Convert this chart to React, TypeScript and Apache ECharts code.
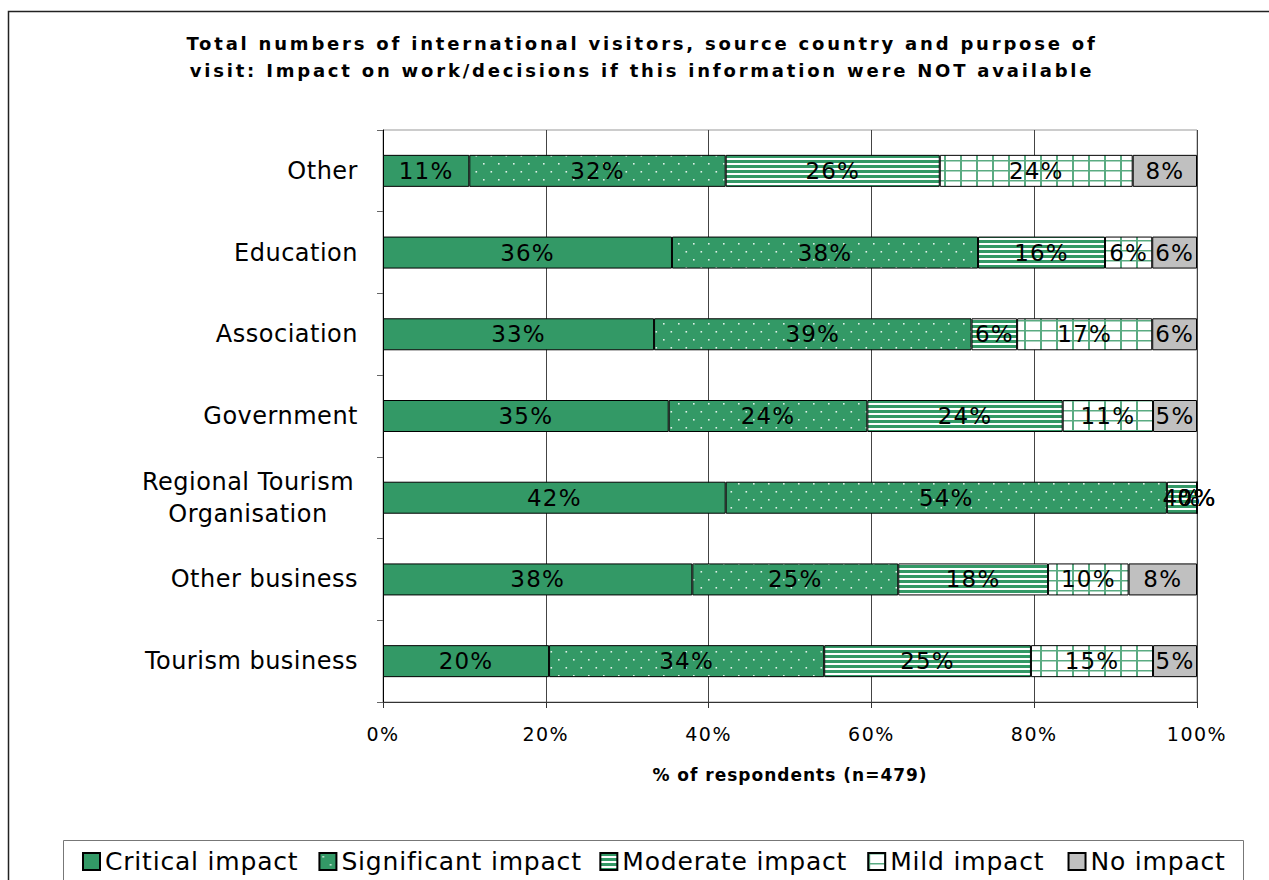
import React, { useEffect, useRef } from 'react';
import * as echarts from 'echarts';

const categories = [
  'Other',
  'Education',
  'Association',
  'Government',
  'Regional Tourism\nOrganisation',
  'Other business',
  'Tourism business',
];
const seriesNames = ['Critical impact', 'Significant impact', 'Moderate impact', 'Mild impact', 'No impact'];
const critical = [10.6, 35.5, 33.3, 35.1, 42.1, 38.0, 20.4];
const significant = [31.5, 37.6, 39.0, 24.4, 54.2, 25.3, 33.8];
const moderate = [26.3, 15.6, 5.6, 24.0, 3.7, 18.4, 25.4];
const mild = [23.7, 5.8, 16.6, 11.1, 0, 9.9, 15.0];
const noImpact = [7.9, 5.5, 5.5, 5.4, 0, 8.4, 5.4];
const xMin = 0;
const xMax = 100;
const xStep = 20;
const titleText =
  'Total numbers of international visitors, source country and purpose of\nvisit: Impact on work/decisions if this information were NOT available';
const axisNameText = '% of respondents (n=479)';

const GREEN = '#339966';
const FONT = 'DejaVu Sans';

function makePattern(kind: string) {
  const c = document.createElement('canvas');
  let w = 16;
  let h = 8;
  if (kind === 'dots') { w = 15; h = 16; }
  if (kind === 'hstripes') { w = 8; h = 5; }
  if (kind === 'grid') { w = 16; h = 10; }
  c.width = w;
  c.height = h;
  const ctx = c.getContext('2d') as CanvasRenderingContext2D;
  if (kind === 'dots') {
    ctx.fillStyle = GREEN;
    ctx.fillRect(0, 0, w, h);
    ctx.fillStyle = 'rgba(255,255,255,0.85)';
    ctx.fillRect(3, 3, 1.6, 1.6);
    ctx.fillRect(10.5, 11, 1.6, 1.6);
  } else if (kind === 'hstripes') {
    ctx.fillStyle = '#ffffff';
    ctx.fillRect(0, 0, w, h);
    ctx.fillStyle = GREEN;
    ctx.fillRect(0, 0, w, 3);
  } else {
    ctx.fillStyle = '#ffffff';
    ctx.fillRect(0, 0, w, h);
    ctx.fillStyle = '#5aab82';
    ctx.fillRect(0, 0, 2, h);
    ctx.fillRect(0, 0, w, 1.5);
  }
  return { image: c.toDataURL(), repeat: 'repeat', imageWidth: w, imageHeight: h };
}

export default function App() {
  const ref = useRef<HTMLDivElement>(null);

  useEffect(() => {
    if (!ref.current) return;
    const chart = echarts.init(ref.current, undefined, { renderer: 'svg' });
    const fills: any[] = [GREEN, makePattern('dots'), makePattern('hstripes'), makePattern('grid'), '#C0C0C0'];
    const values = [critical, significant, moderate, mild, noImpact];

    const series = seriesNames.map((name, i) => ({
      name,
      type: 'bar',
      stack: 'total',
      barWidth: 32,
      data: values[i],
      itemStyle: { color: fills[i], borderColor: '#000', borderWidth: 1 },
      label: {
        show: true,
        position: 'inside',
        color: '#000',
        fontFamily: FONT,
        fontSize: 23,
        textBorderWidth: 0,
        formatter: (p: any) => Math.round(p.value) + '%',
      },
      emphasis: { disabled: true },
    }));

    const yData = categories.map((c, i) =>
      i === 4 ? { value: c, textStyle: { align: 'center', padding: [0, 220, 0, 0] } } : c
    );

    chart.setOption({
      animation: false,
      backgroundColor: '#ffffff',
      title: {
        text: titleText,
        left: 642,
        top: 30,
        padding: 0,
        textAlign: 'center',
        textStyle: { fontFamily: FONT, fontWeight: 'bold', fontSize: 18, color: '#000', lineHeight: 27 },
      },
      legend: {
        data: seriesNames,
        left: 77,
        top: 844,
        itemGap: 32,
        itemWidth: 17,
        itemHeight: 17,
        icon: 'rect',
        textStyle: { fontFamily: FONT, fontSize: 25, color: '#000' },
        selectedMode: false,
      },
      grid: {
        left: 383,
        right: 72,
        top: 130,
        bottom: 178,
        show: true,
        borderColor: '#999',
        borderWidth: 1,
        backgroundColor: 'transparent',
      },
      xAxis: {
        type: 'value',
        min: xMin,
        max: xMax,
        interval: xStep,
        name: axisNameText,
        nameLocation: 'middle',
        nameGap: 64,
        nameTextStyle: { fontFamily: FONT, fontWeight: 'bold', fontSize: 17, color: '#000' },
        axisLine: { show: true, lineStyle: { color: '#333', width: 1 } },
        axisTick: { show: true, length: 6, lineStyle: { color: '#333' } },
        axisLabel: { formatter: '{value}%', fontFamily: FONT, fontSize: 19, color: '#000', margin: 22 },
        splitLine: { show: true, lineStyle: { color: '#444', width: 1 } },
      },
      yAxis: {
        type: 'category',
        inverse: true,
        data: yData,
        axisLine: { show: true, lineStyle: { color: '#000', width: 1 } },
        axisTick: { show: true, length: 6, alignWithLabel: false, lineStyle: { color: '#666' } },
        axisLabel: { fontFamily: FONT, fontSize: 24, color: '#000', margin: 25, lineHeight: 32, interval: 0 },
        splitLine: { show: false },
      },
      graphic: [
        {
          type: 'rect',
          silent: true,
          z: -10,
          shape: { x: 8.5, y: 11.5, width: 1300, height: 900 },
          style: { fill: 'none', stroke: '#222', lineWidth: 1.5 },
        },
        {
          type: 'rect',
          silent: true,
          z: -5,
          shape: { x: 63.5, y: 840.5, width: 1180, height: 60 },
          style: { fill: '#fff', stroke: '#777', lineWidth: 1 },
        },
      ],
      series,
    });
    return () => chart.dispose();
  }, []);

  const css = `
    body { margin: 0; }
    .chart text[style*="18px"] { letter-spacing: 2.8px; }
    .chart text[style*="17px"] { letter-spacing: 1px; }
    .chart text[style*="19px"] { letter-spacing: 1.5px; }
    .chart text[style*="23px"] { letter-spacing: 1.2px; }
    .chart text[style*="24px"] { letter-spacing: 0.5px; }
    .chart text[style*="25px"] { letter-spacing: 0.8px; }
  `;

  return (
    <>
      <style>{css}</style>
      <div className="chart" ref={ref} style={{ width: 1269, height: 880 }} />
    </>
  );
}
